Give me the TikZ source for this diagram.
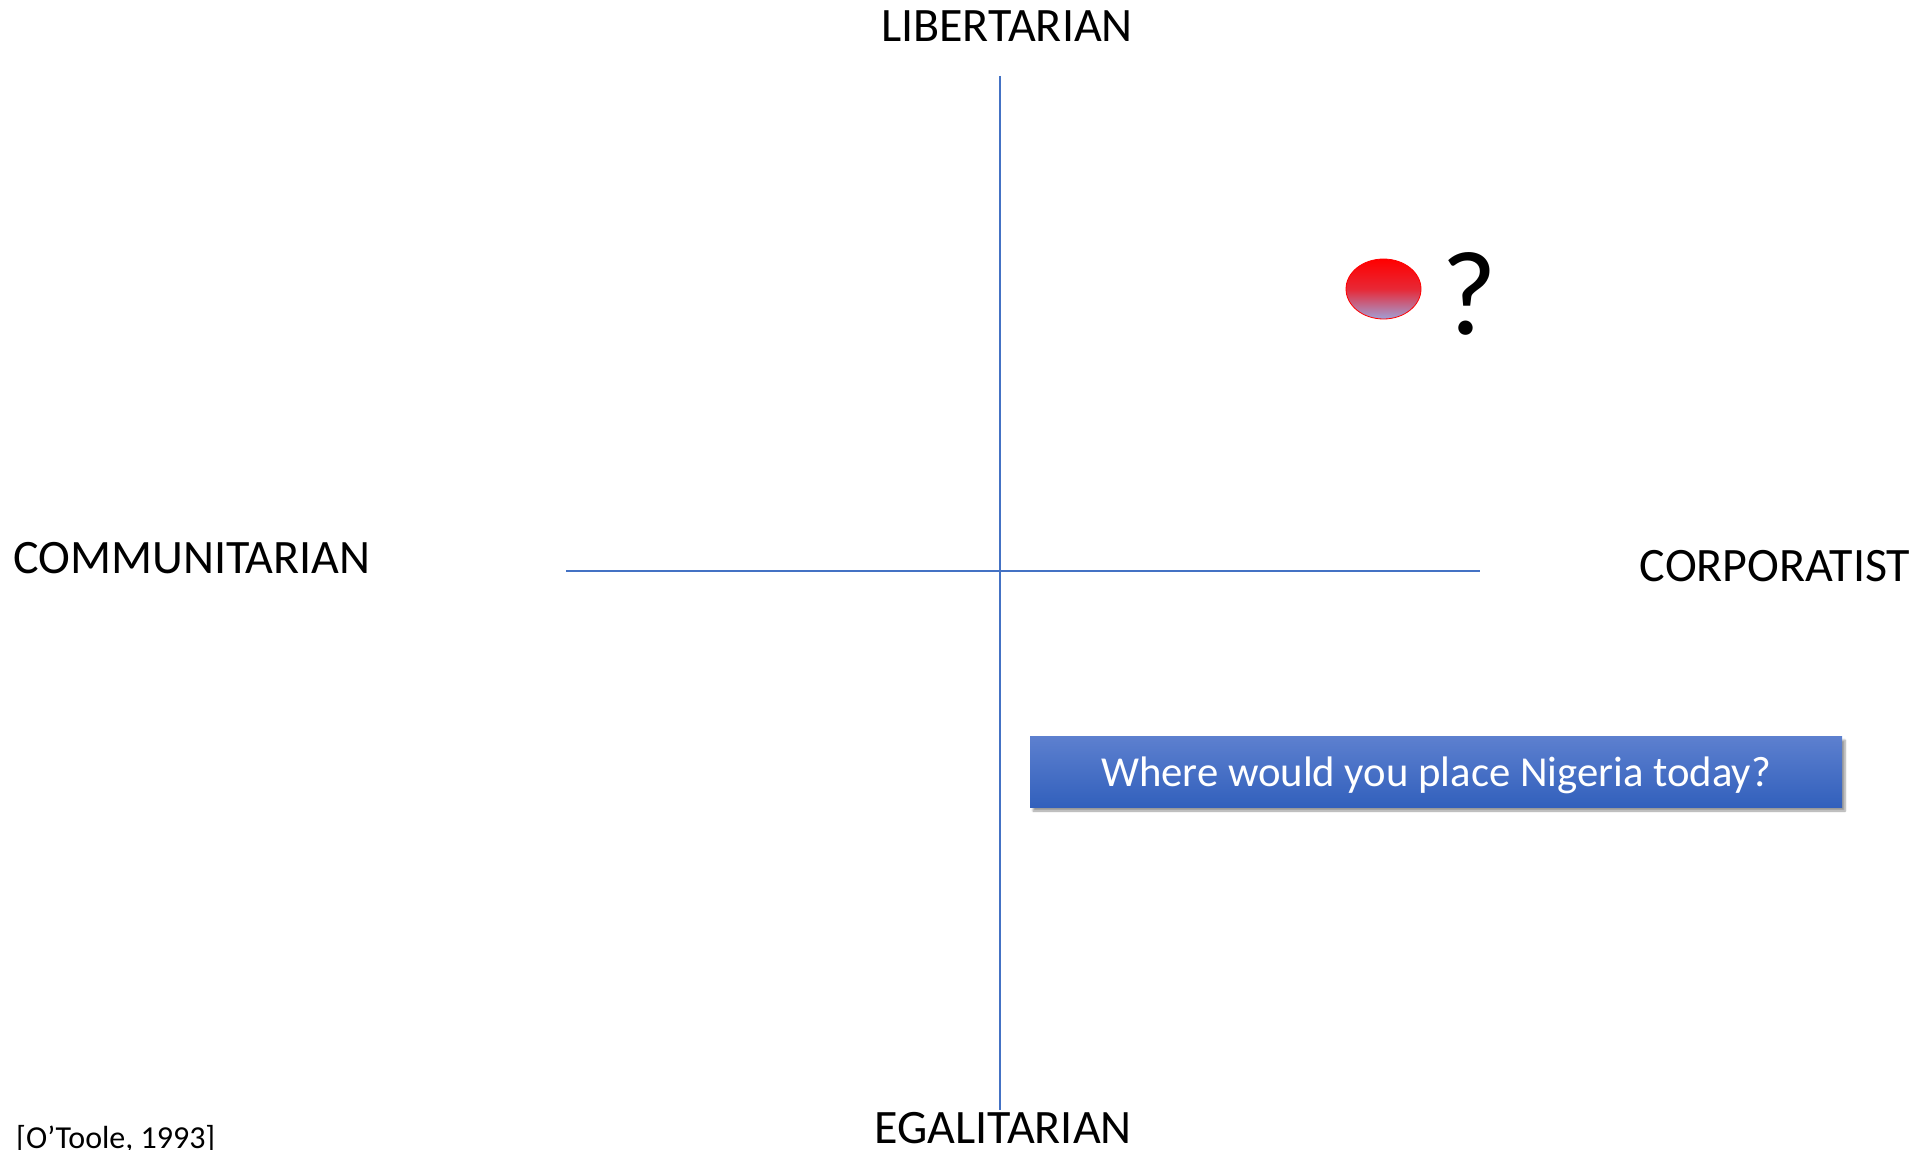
\documentclass[tikz,border=0pt]{standalone}
\usepackage{fontspec}
\setmainfont{Carlito}
\usetikzlibrary{shadows.blur}
\definecolor{axisblue}{RGB}{68,114,196}
\definecolor{boxtop}{RGB}{93,128,207}
\definecolor{boxbot}{RGB}{50,96,188}
\definecolor{dotlow}{RGB}{160,160,215}
\tikzset{
  pole/.style={inner sep=0pt, font=\fontsize{48}{57}\selectfont},
}
\begin{document}
\begin{tikzpicture}[x=1pt, y=-1pt]
    \useasboundingbox (0,0) rectangle (1929,1150);

    \coordinate (top) at (1000,76);
    \coordinate (bot) at (1000,1110);
    \coordinate (west) at (566,571);
    \coordinate (east) at (1480,571);

    \draw[axisblue, line width=1.3pt] (top) -- (bot);
    \draw[axisblue, line width=1.3pt] (west) -- (east);

    \node[pole] (lib) at (1007,26) {LIBERTARIAN};
    \node[pole] (com) at (192,558) {COMMUNITARIAN};
    \node[pole] (cor) at (1775,566) {CORPORATIST};
    \node[pole] (ega) at (1003,1128) {EGALITARIAN};

    \node[anchor=base west, inner sep=0pt, font=\fontsize{32}{38}\selectfont] (ref) at (16,1148) {[O’Toole, 1993]};

    \draw[red, line width=0.8pt, top color=red, bottom color=dotlow, middle color=red!75!dotlow] (1383.5,289) ellipse (37.5 and 30);
    \node[anchor=base, inner sep=0pt, font=\fontsize{120}{135}\selectfont] (qm) at (1469,334) {?};

    \node[minimum width=812pt, minimum height=71pt, inner sep=0pt, text depth=0pt, top color=boxtop, bottom color=boxbot,
          blur shadow={shadow xshift=3pt, shadow yshift=-4pt, shadow opacity=40, shadow blur steps=6},
          text=white, font=\fontsize{42.7}{50}\selectfont] (ask) at (1436,771.5) {Where would you place Nigeria today?};
\end{tikzpicture}
\end{document}
